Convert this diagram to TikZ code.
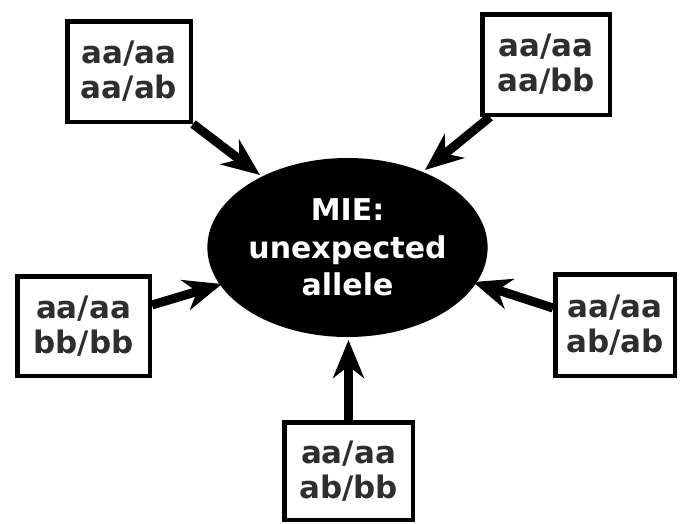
\documentclass[tikz,border=0pt]{standalone}
\usepackage{fontspec}
\setmainfont{DejaVu Sans}
\usetikzlibrary{arrows.meta,shapes.geometric}
\definecolor{inkgray}{HTML}{2E2E2E}
\begin{document}
\begin{tikzpicture}[x=1pt,y=-1pt,
  pairbox/.style={draw=black, line width=4.5pt, fill=white, inner sep=0pt,
    align=center, text=inkgray, font=\fontsize{31}{35}\selectfont\bfseries},
  feed/.style={line width=9pt, draw=black,
    -{Stealth[length=38pt,width=31pt,inset=12pt]}},
  hub/.style={ellipse, fill=black, inner sep=0pt, align=center, text=white,
    font=\fontsize{30}{37.5}\selectfont\bfseries}
  ]
\useasboundingbox (0,0) rectangle (680,523);

% central event
\node[hub, minimum width=263pt, minimum height=179pt] (mie) at (347.5,247.5)
  {MIE:\\unexpected\\allele};

% genotype combinations
\node[pairbox, minimum width=123.5pt, minimum height=100.5pt] (tl) at (129,71.5) {aa/aa\\aa/ab};
\node[pairbox, minimum width=127.5pt, minimum height=100.5pt] (tr) at (546,64.5) {aa/aa\\aa/bb};
\node[pairbox, minimum width=132.5pt, minimum height=99.5pt] (lb) at (83.5,326) {aa/aa\\bb/bb};
\node[pairbox, minimum width=119.5pt, minimum height=101.5pt] (rb) at (615,325) {aa/aa\\ab/ab};
\node[pairbox, minimum width=128.5pt, minimum height=97.5pt] (bt) at (348.5,471) {aa/aa\\ab/bb};

% arrow tips on the rim of the ellipse
\coordinate (tipTL) at (260,175);
\coordinate (tipTR) at (425,170);
\coordinate (tipL) at (222,284);
\coordinate (tipR) at (473,282);
\coordinate (tipB) at (348.5,340);

\draw[feed] (tl.south east) -- (tipTL);
\draw[feed] ([xshift=10pt]tr.south west) -- (tipTR);
\draw[feed] ([yshift=21pt]lb.east) -- (tipL);
\draw[feed] ([yshift=17pt]rb.west) -- (tipR);
\draw[feed] (bt.north) -- (tipB);
\end{tikzpicture}
\end{document}
